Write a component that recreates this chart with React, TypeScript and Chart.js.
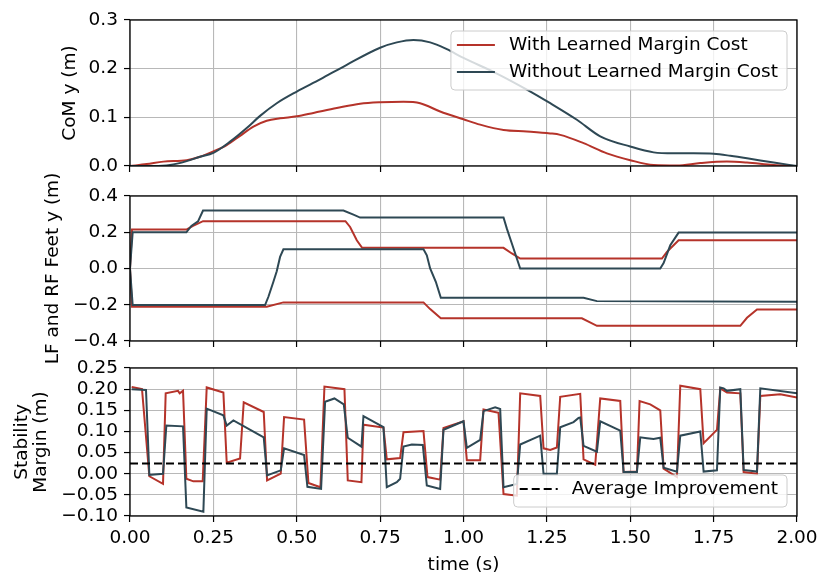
import { useEffect, useRef } from 'react';
import { Chart, registerables } from 'chart.js';

Chart.register(...registerables);

const RED = '#b5332a';
const SLATE = '#2e4854';
const GRID = '#b8b8b8';
const FONT = 'DejaVu Sans';
const FS = 18.5;

// shared time axis
const timeTicks = [0, 0.25, 0.5, 0.75, 1.0, 1.25, 1.5, 1.75, 2.0];

// panel 1 - CoM y (m)
const comTicks = [0, 0.1, 0.2, 0.3];
const comTimeWith = [0, 0.05, 0.1, 0.17, 0.21, 0.25, 0.29, 0.33, 0.37, 0.41, 0.45, 0.5, 0.55, 0.62, 0.69, 0.75, 0.82, 0.87, 0.93, 1.0, 1.05, 1.12, 1.19, 1.26, 1.29, 1.36, 1.43, 1.5, 1.57, 1.64, 1.71, 1.79, 1.85, 1.93, 2.0];
const comWith = [0, 0.004, 0.009, 0.012, 0.019, 0.03, 0.043, 0.062, 0.081, 0.093, 0.098, 0.102, 0.109, 0.119, 0.128, 0.131, 0.132, 0.129, 0.112, 0.096, 0.085, 0.074, 0.071, 0.067, 0.064, 0.047, 0.026, 0.012, 0.002, 0.001, 0.006, 0.009, 0.007, 0.002, 0];
const comTimeWithout = [0, 0.07, 0.12, 0.17, 0.21, 0.25, 0.3, 0.35, 0.39, 0.44, 0.5, 0.57, 0.65, 0.75, 0.8, 0.85, 0.9, 0.95, 1.0, 1.1, 1.19, 1.26, 1.34, 1.41, 1.5, 1.57, 1.63, 1.69, 1.75, 1.8, 1.85, 1.93, 2.0];
const comWithout = [0, 0, 0.002, 0.01, 0.019, 0.027, 0.05, 0.078, 0.103, 0.129, 0.153, 0.178, 0.208, 0.243, 0.254, 0.259, 0.254, 0.24, 0.222, 0.19, 0.157, 0.129, 0.095, 0.061, 0.04, 0.028, 0.026, 0.026, 0.025, 0.021, 0.016, 0.007, 0];

// panel 2 - LF and RF feet y (m)
const feetTicks = [-0.4, -0.2, 0, 0.2, 0.4];
const footTimeWithA = [0, 0.006, 0.169, 0.189, 0.219, 0.646, 0.66, 0.68, 0.696, 1.12, 1.145, 1.17, 1.595, 1.61, 1.63, 1.645, 2.0];
const footWithA = [0, 0.215, 0.215, 0.235, 0.261, 0.261, 0.229, 0.156, 0.114, 0.114, 0.083, 0.055, 0.055, 0.092, 0.128, 0.156, 0.156];
const footTimeWithB = [0, 0.006, 0.41, 0.46, 0.88, 0.9, 0.932, 1.355, 1.4, 1.83, 1.85, 1.88, 2.0];
const footWithB = [0, -0.211, -0.211, -0.187, -0.187, -0.224, -0.275, -0.275, -0.316, -0.316, -0.272, -0.226, -0.226];
const footTimeWithoutA = [0, 0.008, 0.169, 0.184, 0.204, 0.219, 0.64, 0.67, 0.69, 1.12, 1.13, 1.145, 1.17, 1.59, 1.6, 1.62, 1.645, 2.0];
const footWithoutA = [0, 0.2, 0.2, 0.235, 0.26, 0.32, 0.32, 0.297, 0.281, 0.281, 0.22, 0.138, 0, 0, 0.03, 0.128, 0.198, 0.198];
const footTimeWithoutB = [0, 0.008, 0.405, 0.415, 0.43, 0.44, 0.45, 0.46, 0.88, 0.89, 0.9, 0.917, 0.932, 1.36, 1.4, 2.0];
const footWithoutB = [0, -0.202, -0.202, -0.156, -0.073, -0.015, 0.064, 0.106, 0.106, 0.073, 0, -0.073, -0.161, -0.161, -0.18, -0.183];

// panel 3 - stability margin (m)
const marginTicks = [-0.1, -0.05, 0, 0.05, 0.1, 0.15, 0.2, 0.25];
const marginTimeWith = [0.005, 0.036, 0.058, 0.099, 0.107, 0.144, 0.149, 0.159, 0.169, 0.19, 0.218, 0.23, 0.28, 0.29, 0.33, 0.341, 0.401, 0.411, 0.452, 0.462, 0.522, 0.535, 0.571, 0.583, 0.643, 0.653, 0.694, 0.7, 0.76, 0.77, 0.81, 0.82, 0.88, 0.892, 0.93, 0.94, 1.0, 1.01, 1.05, 1.06, 1.105, 1.12, 1.16, 1.17, 1.23, 1.24, 1.26, 1.28, 1.29, 1.35, 1.36, 1.395, 1.41, 1.47, 1.48, 1.52, 1.528, 1.56, 1.59, 1.6, 1.64, 1.65, 1.71, 1.72, 1.75, 1.76, 1.77, 1.79, 1.83, 1.84, 1.88, 1.89, 1.95, 2.0];
const marginWith = [0.205, 0.2, -0.006, -0.024, 0.19, 0.196, 0.19, 0.196, -0.012, -0.018, -0.018, 0.204, 0.192, 0.026, 0.036, 0.169, 0.146, -0.016, 0, 0.134, 0.128, -0.022, -0.032, 0.206, 0.2, -0.016, -0.02, 0.116, 0.109, 0.034, 0.037, 0.098, 0.101, -0.008, -0.014, 0.108, 0.124, 0.032, 0.032, 0.152, 0.144, -0.048, -0.052, 0.19, 0.184, 0.06, 0.056, 0.062, 0.182, 0.189, 0.034, 0.021, 0.178, 0.172, 0.004, 0.005, 0.172, 0.164, 0.15, 0.012, -0.008, 0.208, 0.2, 0.072, 0.096, 0.104, 0.202, 0.192, 0.19, 0.004, 0, 0.184, 0.188, 0.18];
const marginTimeWithout = [0.005, 0.048, 0.058, 0.099, 0.109, 0.159, 0.169, 0.22, 0.23, 0.28, 0.29, 0.31, 0.401, 0.411, 0.452, 0.462, 0.522, 0.532, 0.573, 0.585, 0.613, 0.641, 0.653, 0.694, 0.7, 0.76, 0.77, 0.8, 0.81, 0.82, 0.845, 0.878, 0.89, 0.93, 0.94, 1.0, 1.01, 1.05, 1.06, 1.095, 1.11, 1.12, 1.16, 1.17, 1.23, 1.24, 1.28, 1.29, 1.33, 1.345, 1.35, 1.36, 1.4, 1.41, 1.47, 1.48, 1.52, 1.53, 1.55, 1.57, 1.59, 1.6, 1.64, 1.65, 1.71, 1.72, 1.76, 1.77, 1.78, 1.79, 1.83, 1.84, 1.88, 1.89, 2.0];
const marginWithout = [0.2, 0.198, -0.003, 0, 0.114, 0.112, -0.08, -0.09, 0.154, 0.138, 0.114, 0.126, 0.086, -0.004, 0.008, 0.06, 0.044, -0.031, -0.036, 0.17, 0.178, 0.164, 0.085, 0.064, 0.136, 0.11, -0.032, -0.02, -0.012, 0.064, 0.069, 0.068, -0.028, -0.036, 0.104, 0.124, 0.061, 0.08, 0.148, 0.157, 0.153, -0.032, -0.024, 0.069, 0.09, 0, 0, 0.11, 0.122, 0.132, 0.133, 0.066, 0.052, 0.124, 0.102, 0.004, 0.004, 0.086, 0.084, 0.082, 0.085, 0.014, 0.005, 0.09, 0.1, 0.005, 0.008, 0.204, 0.202, 0.196, 0.2, 0.009, 0.005, 0.202, 0.19];
const avgTime = [0, 2];
const avgImprovement = [0.024, 0.024];

const pts = (ts: number[], vs: number[]) => ts.map((t, i) => ({ x: t, y: vs[i] }));
const fmt = (v: number, d: number) => v.toFixed(d).replace('-', '\u2212');

const framePlugin = {
  id: 'frame',
  afterDatasetsDraw(chart: any) {
    const { ctx, chartArea: a } = chart;
    ctx.save();
    ctx.strokeStyle = '#000';
    ctx.lineWidth = 1.3;
    ctx.strokeRect(a.left, a.top, a.right - a.left, a.bottom - a.top);
    ctx.restore();
  },
};

const boxLegend = {
  id: 'boxLegend',
  afterDraw(chart: any, _args: any, opts: any) {
    if (!opts || !opts.corner) return;
    const items = chart.data.datasets.filter((d: any) => d.label);
    const { ctx, chartArea: a } = chart;
    ctx.save();
    ctx.font = `${FS}px "${FONT}"`;
    const textW = Math.max(...items.map((d: any) => ctx.measureText(d.label).width));
    const w = 6 + 38 + 14 + textW + 9;
    const h = 32 + 27 * (items.length - 1);
    const x = a.right - 10 - w;
    const y = opts.corner === 'upper' ? a.top + 11 : a.bottom - 9 - h;
    ctx.beginPath();
    ctx.roundRect(x, y, w, h, 4);
    ctx.fillStyle = 'rgba(255,255,255,0.8)';
    ctx.fill();
    ctx.strokeStyle = '#cccccc';
    ctx.lineWidth = 1;
    ctx.stroke();
    items.forEach((d: any, i: number) => {
      const cy = y + 14 + i * 27;
      ctx.beginPath();
      ctx.setLineDash(d.borderDash || []);
      ctx.strokeStyle = d.borderColor;
      ctx.lineWidth = d.borderWidth;
      ctx.moveTo(x + 6, cy);
      ctx.lineTo(x + 44, cy);
      ctx.stroke();
      ctx.setLineDash([]);
      ctx.fillStyle = '#000';
      ctx.textBaseline = 'middle';
      ctx.textAlign = 'left';
      ctx.fillText(d.label, x + 58, cy);
    });
    ctx.restore();
  },
};

type Panel = {
  datasets: any[];
  yMin: number;
  yMax: number;
  yTicks: number[];
  digits: number;
  title: string | string[];
  titlePad: number;
  padTop: number;
  padBottom: number;
  xHeight: number;
  showX: boolean;
  corner?: string;
};

function makeConfig(p: Panel): any {
  const font = { family: FONT, size: FS };
  return {
    type: 'line',
    data: { datasets: p.datasets },
    options: {
      animation: false,
      responsive: false,
      events: [],
      layout: { padding: { left: 0, right: 34, top: p.padTop, bottom: p.padBottom } },
      elements: { point: { radius: 0 } },
      plugins: {
        legend: { display: false },
        tooltip: { enabled: false },
        boxLegend: { corner: p.corner },
      },
      scales: {
        x: {
          type: 'linear',
          min: 0,
          max: 2,
          afterBuildTicks: (s: any) => { s.ticks = timeTicks.map((value) => ({ value })); },
          afterFit: (s: any) => { s.height = p.xHeight; },
          grid: { color: GRID, lineWidth: 1.1, tickColor: '#000', tickLength: 6, tickWidth: 1.2 },
          border: { display: false },
          ticks: {
            display: p.showX,
            autoSkip: false,
            maxRotation: 0,
            color: '#000',
            font,
            padding: 5,
            callback: (v: number) => fmt(v, 2),
          },
          title: {
            display: p.showX,
            text: 'time (s)',
            color: '#000',
            font: { ...font, lineHeight: 1.0 },
            padding: { top: 0, bottom: 0 },
          },
        },
        y: {
          type: 'linear',
          min: p.yMin,
          max: p.yMax,
          afterBuildTicks: (s: any) => { s.ticks = p.yTicks.map((value) => ({ value })); },
          afterFit: (s: any) => { s.width = 130; },
          grid: { color: GRID, lineWidth: 1.1, tickColor: '#000', tickLength: 6, tickWidth: 1.2 },
          border: { display: false },
          ticks: {
            autoSkip: false,
            color: '#000',
            font,
            padding: 6,
            callback: (v: number) => fmt(v, p.digits),
          },
          title: {
            display: true,
            text: p.title,
            color: '#000',
            font: { ...font, lineHeight: 1.0 },
            padding: { top: p.titlePad, bottom: 0 },
          },
        },
      },
    },
    plugins: [framePlugin, boxLegend],
  };
}

const line = (label: string | undefined, color: string, data: any[], order: number, extra: any = {}) => ({
  label,
  data,
  borderColor: color,
  backgroundColor: color,
  borderWidth: 2,
  fill: false,
  order,
  ...extra,
});

const panels: { top: number; height: number; cfg: Panel }[] = [
  {
    top: 0,
    height: 186,
    cfg: {
      datasets: [
        line('With Learned Margin Cost', RED, pts(comTimeWith, comWith), 2, { cubicInterpolationMode: 'monotone' }),
        line('Without Learned Margin Cost', SLATE, pts(comTimeWithout, comWithout), 1, { cubicInterpolationMode: 'monotone' }),
      ],
      yMin: 0,
      yMax: 0.3,
      yTicks: comTicks,
      digits: 1,
      title: 'CoM y (m)',
      titlePad: 61,
      padTop: 20,
      padBottom: 10,
      xHeight: 10,
      showX: false,
      corner: 'upper',
    },
  },
  {
    top: 160,
    height: 221,
    cfg: {
      datasets: [
        line(undefined, RED, pts(footTimeWithA, footWithA), 2),
        line(undefined, RED, pts(footTimeWithB, footWithB), 2),
        line(undefined, SLATE, pts(footTimeWithoutA, footWithoutA), 1),
        line(undefined, SLATE, pts(footTimeWithoutB, footWithoutB), 1),
      ],
      yMin: -0.4,
      yMax: 0.4,
      yTicks: feetTicks,
      digits: 1,
      title: 'LF and RF Feet y (m)',
      titlePad: 44,
      padTop: 36,
      padBottom: 30,
      xHeight: 10,
      showX: false,
    },
  },
  {
    top: 340,
    height: 239,
    cfg: {
      datasets: [
        line(undefined, RED, pts(marginTimeWith, marginWith), 2),
        line(undefined, SLATE, pts(marginTimeWithout, marginWithout), 1),
        line('Average Improvement', '#000', pts(avgTime, avgImprovement), 0, { borderDash: [8, 4] }),
      ],
      yMin: -0.1,
      yMax: 0.25,
      yTicks: marginTicks,
      digits: 2,
      title: ['Stability', 'Margin (m)'],
      titlePad: 13,
      padTop: 28,
      padBottom: 5,
      xHeight: 58,
      showX: true,
      corner: 'lower',
    },
  },
];

export default function App() {
  const refs = [useRef<HTMLCanvasElement>(null), useRef<HTMLCanvasElement>(null), useRef<HTMLCanvasElement>(null)];

  useEffect(() => {
    const charts: Chart[] = [];
    panels.forEach((p, i) => {
      const el = refs[i].current;
      if (el) charts.push(new Chart(el, makeConfig(p.cfg)));
    });
    return () => {
      charts.forEach((c) => c.destroy());
    };
  }, []);

  return (
    <div style={{ position: 'absolute', left: 0, top: 0, width: 831, height: 587, background: '#fff' }}>
      {panels.map((p, i) => (
        <canvas
          key={i}
          ref={refs[i]}
          width={831}
          height={p.height}
          style={{ position: 'absolute', left: 0, top: p.top, width: 831, height: p.height }}
        />
      ))}
    </div>
  );
}
